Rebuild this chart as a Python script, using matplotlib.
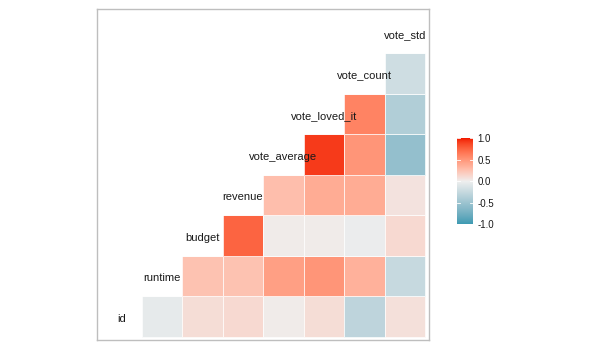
import numpy as np
import matplotlib
matplotlib.use("Agg")
import matplotlib.pyplot as plt
from matplotlib.colors import ListedColormap, Normalize, to_rgb
from matplotlib.colorbar import ColorbarBase

plt.rcParams['font.family'] = ['Liberation Sans', 'DejaVu Sans']

variables = ["id", "runtime", "budget", "revenue", "vote_average",
             "vote_loved_it", "vote_count", "vote_std"]

# correlations of each variable with the variables that follow it
corr_id = [-0.05, 0.10, 0.12, 0.02, 0.10, -0.30, 0.08]
corr_runtime = [0.25, 0.25, 0.45, 0.50, 0.35, -0.25]
corr_budget = [0.75, 0.02, 0.02, -0.02, 0.12]
corr_revenue = [0.28, 0.38, 0.38, 0.07]
corr_vote_average = [0.92, 0.50, -0.55]
corr_vote_loved_it = [0.60, -0.38]
corr_vote_count = [-0.20]

rows = [corr_id, corr_runtime, corr_budget, corr_revenue,
        corr_vote_average, corr_vote_loved_it, corr_vote_count]

n = len(variables)
mat = np.full((n, n), np.nan)
for i, r in enumerate(rows):
    for k, v in enumerate(r):
        mat[i, i + 1 + k] = v
mat = np.ma.masked_invalid(mat)


# Lab interpolation like ggplot2's scale_fill_gradient2
def srgb_to_lab(c):
    c = np.asarray(c, float)
    lin = np.where(c <= 0.04045, c / 12.92, ((c + 0.055) / 1.055) ** 2.4)
    M = np.array([[0.4124, 0.3576, 0.1805],
                  [0.2126, 0.7152, 0.0722],
                  [0.0193, 0.1192, 0.9505]])
    xyz = M @ lin / np.array([0.95047, 1.0, 1.08883])
    f = np.where(xyz > 0.008856, np.cbrt(xyz), 7.787 * xyz + 16 / 116)
    return np.array([116 * f[1] - 16, 500 * (f[0] - f[1]), 200 * (f[1] - f[2])])


def lab_to_srgb(lab):
    L, a, b = lab
    fy = (L + 16) / 116
    fx = fy + a / 500
    fz = fy - b / 200
    f = np.array([fx, fy, fz])
    xyz = np.where(f ** 3 > 0.008856, f ** 3, (f - 16 / 116) / 7.787)
    xyz = xyz * np.array([0.95047, 1.0, 1.08883])
    Minv = np.array([[3.2406, -1.5372, -0.4986],
                     [-0.9689, 1.8758, 0.0415],
                     [0.0557, -0.2040, 1.0570]])
    lin = Minv @ xyz
    lin = np.clip(lin, 0, 1)
    c = np.where(lin <= 0.0031308, 12.92 * lin, 1.055 * lin ** (1 / 2.4) - 0.055)
    return np.clip(c, 0, 1)


low, mid, high = "#3B9AB2", "#EEEEEE", "#F21A00"
labs = [srgb_to_lab(to_rgb(c)) for c in (low, mid, high)]
cols = []
for t in np.linspace(0, 1, 256):
    if t <= 0.5:
        u = t / 0.5
        lab = labs[0] * (1 - u) + labs[1] * u
    else:
        u = (t - 0.5) / 0.5
        lab = labs[1] * (1 - u) + labs[2] * u
    cols.append(lab_to_srgb(lab))
cmap = ListedColormap(cols)
norm = Normalize(-1, 1)

fig = plt.figure(figsize=(6, 3.5), dpi=100)
ax = fig.add_axes([0.1622, 0.0286, 0.5523, 0.9449])
edges = np.arange(n + 1) + 0.5
ax.pcolormesh(edges, edges, mat, cmap=cmap, norm=norm,
              edgecolors=(1, 1, 1, 0.8), linewidth=0.5)
for i, name in enumerate(variables):
    ax.text(i + 1, i + 1 - 0.05, name, ha="center", va="center", fontsize=8,
            color="#1a1a1a")
ax.set_xlim(0.404, 8.587)
ax.set_ylim(0.426, 8.59)
ax.set_xticks([])
ax.set_yticks([])
for s in ax.spines.values():
    s.set_color("#BEBEBE")
    s.set_linewidth(1.0)

cax = fig.add_axes([456.7 / 600, (350 - 224.3) / 350, 16.6 / 600, 86 / 350])
cb = ColorbarBase(cax, cmap=cmap, norm=norm, ticks=[-1, -0.5, 0, 0.5, 1])
cb.outline.set_visible(False)
cb.ax.set_yticklabels(["-1.0", "-0.5", "0.0", "0.5", "1.0"])
cb.ax.tick_params(length=0, labelsize=7, pad=3, colors="#1a1a1a")
for t in [-1, -0.5, 0, 0.5, 1]:
    cax.plot([0, 0.2], [t, t], color="white", lw=0.6, transform=cax.get_yaxis_transform())
    cax.plot([0.8, 1], [t, t], color="white", lw=0.6, transform=cax.get_yaxis_transform())

fig.savefig("out.png", dpi=100)
